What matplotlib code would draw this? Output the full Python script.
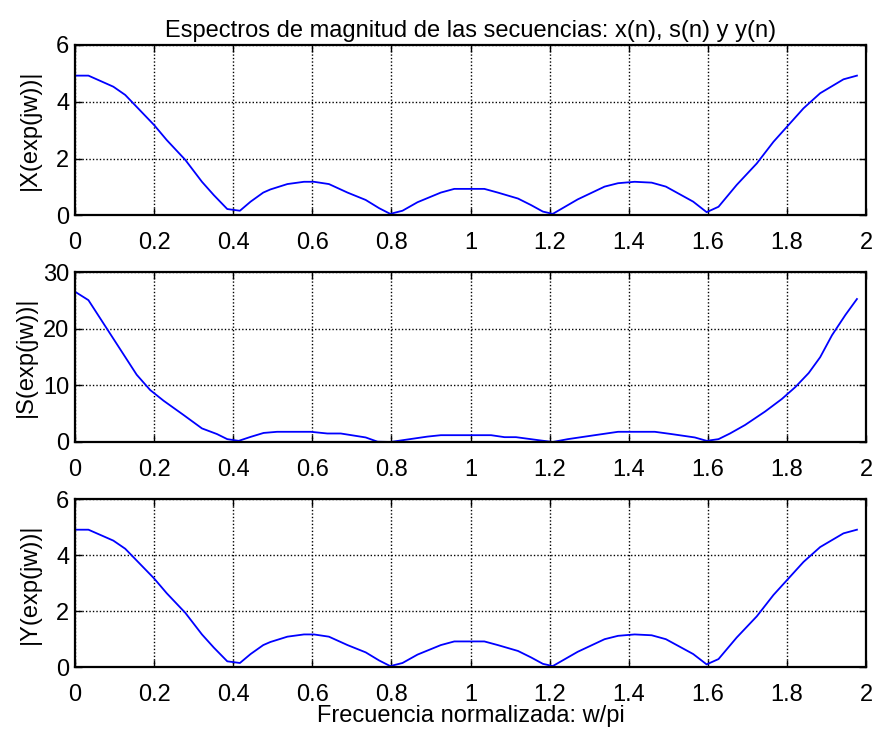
import matplotlib
matplotlib.use("Agg")
import matplotlib.pyplot as plt

plt.rcParams['font.family'] = ['Liberation Sans', 'DejaVu Sans']

# vertices (w/pi, magnitud)
w_x = [0, 0.034, 0.097, 0.127, 0.200, 0.232, 0.279, 0.321, 0.351, 0.385, 0.417,
       0.444, 0.476, 0.494, 0.537, 0.579, 0.604, 0.642, 0.689, 0.735, 0.769,
       0.797, 0.828, 0.866, 0.925, 0.959, 1.035, 1.069, 1.120, 1.153, 1.183,
       1.208, 1.271, 1.339, 1.373, 1.415, 1.458, 1.494, 1.563, 1.597, 1.627,
       1.673, 1.724, 1.766, 1.804, 1.842, 1.884, 1.943, 1.977]
mag_x = [4.92, 4.92, 4.53, 4.24, 3.18, 2.65, 1.95, 1.18, 0.71, 0.22, 0.16,
         0.48, 0.80, 0.91, 1.10, 1.18, 1.18, 1.10, 0.80, 0.54, 0.25,
         0.05, 0.16, 0.46, 0.80, 0.93, 0.93, 0.80, 0.59, 0.36, 0.13,
         0.05, 0.56, 1.01, 1.13, 1.18, 1.15, 1.01, 0.48, 0.11, 0.30,
         1.07, 1.83, 2.59, 3.18, 3.77, 4.30, 4.79, 4.92]

w_s = [0, 0.034, 0.156, 0.190, 0.224, 0.274, 0.321, 0.359, 0.385, 0.414, 0.444,
       0.477, 0.511, 0.596, 0.638, 0.672, 0.735, 0.765, 0.798, 0.832, 0.891,
       0.925, 1.052, 1.086, 1.115, 1.179, 1.208, 1.246, 1.314, 1.373, 1.466,
       1.508, 1.567, 1.597, 1.627, 1.656, 1.694, 1.745, 1.787, 1.821, 1.855,
       1.884, 1.914, 1.948, 1.977]
mag_s = [26.6, 25.1, 11.9, 9.2, 7.3, 4.8, 2.4, 1.4, 0.5, 0.2, 0.9,
         1.6, 1.8, 1.8, 1.5, 1.5, 0.8, 0.05, 0.0, 0.35, 0.95,
         1.2, 1.2, 0.85, 0.85, 0.25, 0.0, 0.5, 1.2, 1.8, 1.8,
         1.4, 0.8, 0.2, 0.5, 1.5, 3.0, 5.4, 7.6, 9.7, 12.2,
         15.0, 18.9, 22.5, 25.3]

w_y = [0, 0.034, 0.097, 0.127, 0.200, 0.232, 0.279, 0.321, 0.351, 0.385, 0.417,
       0.444, 0.476, 0.494, 0.537, 0.579, 0.604, 0.642, 0.689, 0.735, 0.769,
       0.797, 0.828, 0.866, 0.925, 0.959, 1.035, 1.069, 1.120, 1.153, 1.183,
       1.208, 1.271, 1.339, 1.373, 1.415, 1.458, 1.494, 1.563, 1.597, 1.627,
       1.673, 1.724, 1.766, 1.804, 1.842, 1.884, 1.943, 1.977]
mag_y = [4.92, 4.92, 4.53, 4.24, 3.18, 2.65, 1.95, 1.18, 0.71, 0.22, 0.16,
         0.48, 0.80, 0.91, 1.10, 1.18, 1.18, 1.10, 0.80, 0.54, 0.25,
         0.05, 0.16, 0.46, 0.80, 0.93, 0.93, 0.80, 0.59, 0.36, 0.13,
         0.05, 0.56, 1.01, 1.13, 1.18, 1.15, 1.01, 0.48, 0.11, 0.30,
         1.07, 1.83, 2.59, 3.18, 3.77, 4.30, 4.79, 4.92]

x_ticks = [0, 0.2, 0.4, 0.6, 0.8, 1.0, 1.2, 1.4, 1.6, 1.8, 2.0]
x_tick_labels = ['0', '0.2', '0.4', '0.6', '0.8', '1', '1.2', '1.4', '1.6', '1.8', '2']

# (x, magnitud, etiqueta, yticks, bottom, height, posicion ylabel)
paneles = [
    (w_x, mag_x, '|X(exp(jw))|', [0, 2, 4, 6], 0.7075, 0.2314, -0.043),
    (w_s, mag_s, '|S(exp(jw))|', [0, 10, 20, 30], 0.3995, 0.2303, -0.048),
    (w_y, mag_y, '|Y(exp(jw))|', [0, 2, 4, 6], 0.0931, 0.2283, -0.043),
]

fs = 17

fig = plt.figure(figsize=(8.77, 7.36), dpi=100)
axes = []
for w, mag, etiqueta, yt, abajo, alto, xlab in paneles:
    ax = fig.add_axes([0.0855, abajo, 0.902, alto])
    ax.plot(w, mag, color='blue', linewidth=1.3)
    ax.set_xlim(0, 2)
    ax.set_ylim(yt[0], yt[-1])
    ax.set_xticks(x_ticks)
    ax.set_xticklabels(x_tick_labels)
    ax.set_yticks(yt)
    ax.set_ylabel(etiqueta, fontsize=fs)
    ax.yaxis.set_label_coords(xlab, 0.5)
    ax.grid(True, color='black', linestyle=(0, (1, 1.5)), linewidth=1.0)
    ax.tick_params(direction='in', top=True, right=True, labelsize=fs,
                   length=5, width=1)
    ax.tick_params(axis='x', pad=12)
    ax.tick_params(axis='y', pad=4)
    for s in ax.spines.values():
        s.set_linewidth(1.6)
    axes.append(ax)

axes[0].set_title('Espectros de magnitud de las secuencias: x(n), s(n) y y(n)',
                  fontsize=fs, pad=6)
axes[2].set_xlabel('Frecuencia normalizada: w/pi', fontsize=fs, labelpad=-1)

fig.savefig('out.png', dpi=100)
